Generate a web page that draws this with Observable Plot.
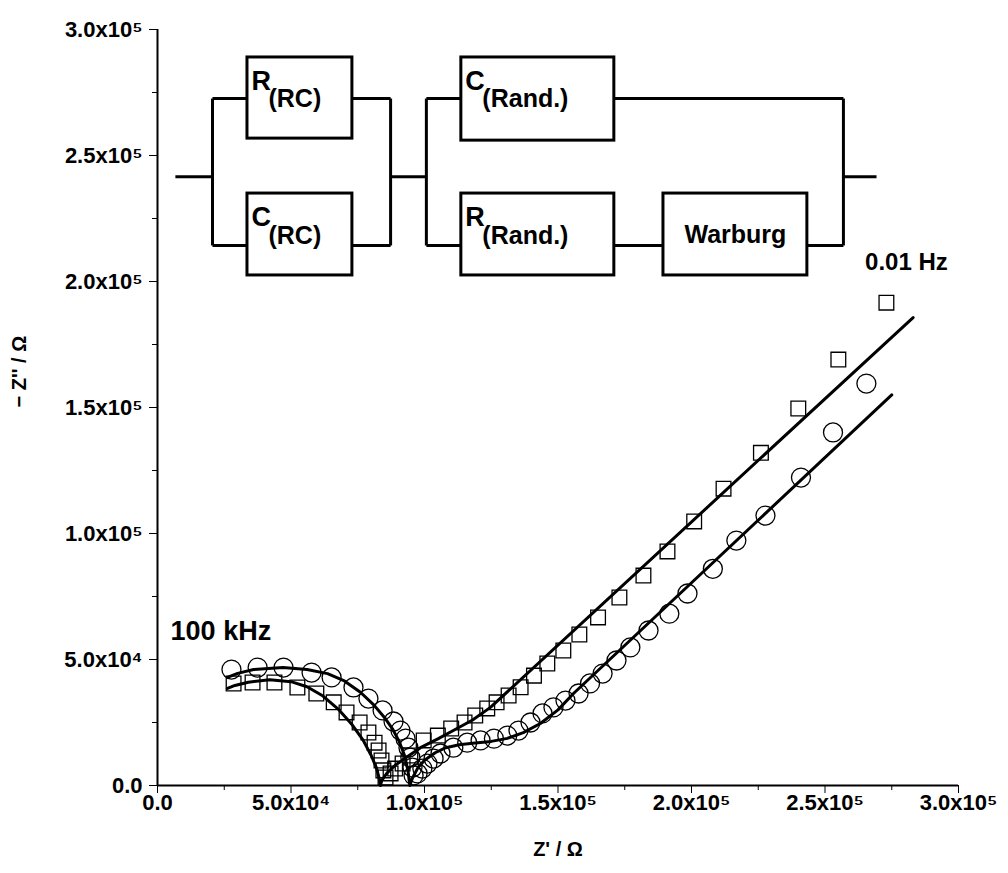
<!DOCTYPE html>
<html>
<head>
<meta charset="utf-8">
<script src="https://cdn.jsdelivr.net/npm/d3@7"></script>
<script src="https://cdn.jsdelivr.net/npm/@observablehq/plot@0.6"></script>
<style>
  body { margin: 0; background: #fff; }
  #chart svg { font-family: "Liberation Sans", Arial, sans-serif; }
</style>
</head>
<body>
<div id="chart"></div>
<script>
// measured points: squares
const sqX = [2.85e4, 3.56e4, 4.38e4, 5.24e4, 5.95e4, 6.6e4, 7.08e4, 7.57e4, 7.9e4, 8.13e4, 8.28e4, 8.39e4, 8.46e4, 8.54e4,
  8.73e4, 8.9e4, 9.18e4, 9.47e4, 9.97e4, 1.05e5, 1.10e5, 1.15e5, 1.19e5, 1.235e5, 1.27e5, 1.315e5, 1.36e5, 1.41e5, 1.46e5,
  1.52e5, 1.58e5, 1.65e5, 1.73e5, 1.82e5, 1.91e5, 2.01e5, 2.12e5, 2.26e5, 2.40e5, 2.55e5, 2.73e5]
const sqY = [4.05e4, 4.09e4, 4.09e4, 3.89e4, 3.65e4, 3.3e4, 2.9e4, 2.5e4, 2.1e4, 1.7e4, 1.39e4, 9.9e3, 6e3, 3.2e3,
  4.8e3, 6.7e3, 8.7e3, 1.19e4, 1.79e4, 1.98e4, 2.26e4, 2.5e4, 2.78e4, 3.06e4, 3.3e4, 3.57e4, 3.9e4, 4.36e4, 4.84e4,
  5.36e4, 5.99e4, 6.67e4, 7.46e4, 8.33e4, 9.29e4, 1.048e5, 1.178e5, 1.32e5, 1.496e5, 1.69e5, 1.916e5]
// measured points: circles
const ciX = [2.77e4, 3.75e4, 4.72e4, 5.77e4, 6.52e4, 7.34e4, 7.9e4, 8.43e4, 8.84e4, 9.1e4, 9.29e4, 9.4e4, 9.47e4, 9.55e4, 9.59e4,
  9.74e4, 9.92e4, 1.011e5, 1.034e5, 1.06e5, 1.108e5, 1.16e5, 1.21e5, 1.26e5, 1.31e5, 1.352e5, 1.397e5, 1.442e5, 1.483e5,
  1.528e5, 1.577e5, 1.62e5, 1.667e5, 1.719e5, 1.771e5, 1.839e5, 1.917e5, 1.985e5, 2.08e5, 2.168e5, 2.277e5, 2.41e5, 2.53e5, 2.655e5]
const ciY = [4.6e4, 4.68e4, 4.68e4, 4.48e4, 4.29e4, 3.89e4, 3.45e4, 2.98e4, 2.54e4, 2.18e4, 1.86e4, 1.5e4, 1.11e4, 7.1e3, 4e3,
  4.8e3, 6.7e3, 8.7e3, 1.07e4, 1.27e4, 1.5e4, 1.7e4, 1.79e4, 1.86e4, 1.98e4, 2.18e4, 2.5e4, 2.86e4, 3.1e4,
  3.37e4, 3.65e4, 4.05e4, 4.44e4, 4.96e4, 5.48e4, 6.15e4, 6.82e4, 7.62e4, 8.6e4, 9.72e4, 1.071e5, 1.222e5, 1.401e5, 1.595e5]
// fitted curves
const fitSqX = [2.62e4, 2.9e4, 3.4e4, 4.2e4, 5.0e4, 5.6e4, 6.2e4, 6.8e4, 7.3e4, 7.7e4, 8.0e4, 8.2e4, 8.3e4, 8.35e4,
  8.4e4, 8.6e4, 8.9e4, 9.3e4, 9.85e4, 1.05e5, 1.12e5, 1.18e5, 1.247e5, 2.83e5]
const fitSqY = [3.85e4, 3.97e4, 4.1e4, 4.2e4, 4.12e4, 3.92e4, 3.55e4, 3.0e4, 2.4e4, 1.8e4, 1.2e4, 7e3, 3e3, 0,
  2e3, 5e3, 8e3, 1.1e4, 1.5e4, 1.85e4, 2.25e4, 2.6e4, 3.1e4, 1.857e5]
const fitCiX = [2.62e4, 3.0e4, 3.6e4, 4.7e4, 5.6e4, 6.37e4, 7.0e4, 7.6e4, 8.1e4, 8.5e4, 8.8e4, 9.05e4, 9.25e4, 9.38e4, 9.45e4,
  9.55e4, 9.75e4, 1.0e5, 1.04e5, 1.08e5, 1.13e5, 1.18e5, 1.25e5, 1.31e5, 1.37e5, 1.434e5, 1.5e5, 1.558e5, 2.75e5]
const fitCiY = [4.29e4, 4.45e4, 4.6e4, 4.68e4, 4.6e4, 4.44e4, 4.15e4, 3.7e4, 3.2e4, 2.7e4, 2.25e4, 1.75e4, 1.2e4, 6e3, 0,
  3e3, 7e3, 1.0e4, 1.3e4, 1.5e4, 1.62e4, 1.68e4, 1.75e4, 1.87e4, 2.1e4, 2.46e4, 3.0e4, 3.65e4, 1.55e5]

const majorTicks = [0, 5e4, 1e5, 1.5e5, 2e5, 2.5e5, 3e5]
const minorTicks = [2.5e4, 7.5e4, 1.25e5, 1.75e5, 2.25e5, 2.75e5]

// equivalent circuit drawn in data units
const boxNames = ["R", "C", "C", "R", "Warburg"]
const boxSubs = ["(RC)", "(RC)", "(Rand.)", "(Rand.)", ""]
const boxX1 = [3.37e4, 3.37e4, 1.138e5, 1.138e5, 1.895e5]
const boxX2 = [7.3e4, 7.3e4, 1.711e5, 1.711e5, 2.434e5]
const boxY1 = [2.567e5, 2.024e5, 2.559e5, 2.024e5, 2.024e5]
const boxY2 = [2.889e5, 2.349e5, 2.889e5, 2.349e5, 2.349e5]
const wireX1 = [6.7e3, 2.06e4, 2.06e4, 2.06e4, 7.3e4, 7.3e4, 8.73e4, 8.73e4, 1.007e5, 1.007e5, 1.007e5, 1.711e5, 1.711e5, 2.434e5, 2.569e5, 2.569e5]
const wireY1 = [2.416e5, 2.726e5, 2.726e5, 2.143e5, 2.726e5, 2.143e5, 2.726e5, 2.416e5, 2.726e5, 2.726e5, 2.143e5, 2.726e5, 2.143e5, 2.143e5, 2.726e5, 2.416e5]
const wireX2 = [2.06e4, 2.06e4, 3.37e4, 3.37e4, 8.73e4, 8.73e4, 8.73e4, 1.007e5, 1.007e5, 1.138e5, 1.138e5, 2.569e5, 1.895e5, 2.569e5, 2.569e5, 2.693e5]
const wireY2 = [2.416e5, 2.143e5, 2.726e5, 2.143e5, 2.726e5, 2.143e5, 2.143e5, 2.416e5, 2.143e5, 2.726e5, 2.143e5, 2.726e5, 2.143e5, 2.143e5, 2.143e5, 2.416e5]

const sup = {"4": "⁴", "5": "⁵"}
const fmt = v => {
  if (v === 0) return "0.0"
  const e = Math.floor(Math.log10(v) + 1e-9)
  return (v / 10 ** e).toFixed(1) + "x10" + sup[e]
}

const squares = sqX.map((x, i) => ({x, y: sqY[i]}))
const circles = ciX.map((x, i) => ({x, y: ciY[i]}))
const fitSq = fitSqX.map((x, i) => ({x, y: fitSqY[i]}))
const fitCi = fitCiX.map((x, i) => ({x, y: fitCiY[i]}))
const boxes = boxNames.map((n, i) => ({n, s: boxSubs[i], x1: boxX1[i], x2: boxX2[i], y1: boxY1[i], y2: boxY2[i]}))
const wires = wireX1.map((x1, i) => ({x1, y1: wireY1[i], x2: wireX2[i], y2: wireY2[i]}))

const bold = {fontWeight: "bold", fill: "black"}

let chart = Plot.plot({
  width: 1008,
  height: 873,
  marginLeft: 157,
  marginRight: 50,
  marginTop: 29,
  marginBottom: 88,
  style: {fontFamily: "Liberation Sans, Arial, sans-serif", fontWeight: "bold"},
  x: {domain: [0, 3e5]},
  y: {domain: [0, 3e5]},
  marks: [
    Plot.axisX({ticks: majorTicks, tickSize: 8, tickWidth: 2, text: null, label: null}),
    Plot.axisX({ticks: minorTicks, tickSize: 5, text: null, label: null, tickWidth: 2}),
    Plot.axisY({ticks: majorTicks, tickSize: 8, tickWidth: 2, text: null, label: null}),
    Plot.axisY({ticks: minorTicks, tickSize: 5, text: null, label: null, tickWidth: 2}),
    Plot.text(majorTicks, {x: d => d, frameAnchor: "bottom", dy: 24, text: fmt, fontSize: 22, ...bold}),
    Plot.text(majorTicks, {y: d => d, frameAnchor: "left", dx: -15, textAnchor: "end", text: fmt, fontSize: 22, ...bold}),
    Plot.ruleY([0], {strokeWidth: 2}),
    Plot.ruleX([0], {strokeWidth: 2}),
    Plot.line(fitSq, {x: "x", y: "y", strokeWidth: 3}),
    Plot.line(fitCi, {x: "x", y: "y", strokeWidth: 3}),
    Plot.dot(squares, {x: "x", y: "y", symbol: "square", r: 8.3, stroke: "black", strokeWidth: 1.3, fill: "none"}),
    Plot.dot(circles, {x: "x", y: "y", symbol: "circle", r: 9.5, stroke: "black", strokeWidth: 1.3, fill: "none"}),
    Plot.text(["100 kHz"], {x: 4.9e3, y: 6.1e4, textAnchor: "start", fontSize: 27, ...bold}),
    Plot.text(["0.01 Hz"], {x: 2.65e5, y: 2.075e5, textAnchor: "start", fontSize: 24, ...bold}),
    // circuit
    Plot.link(wires, {x1: "x1", y1: "y1", x2: "x2", y2: "y2", strokeWidth: 3, stroke: "black"}),
    Plot.rect(boxes, {x1: "x1", x2: "x2", y1: "y1", y2: "y2", fill: "white", stroke: "black", strokeWidth: 3}),
    Plot.text(boxes.filter(d => d.s), {x: d => d.x1, y: d => d.y2, text: "n", textAnchor: "start", dx: 4, dy: 24, fontSize: 27, ...bold}),
    Plot.text(boxes.filter(d => d.s), {x: d => d.x1, y: d => d.y2, text: "s", textAnchor: "start", dx: 21, dy: 42, fontSize: 25, ...bold}),
    Plot.text(boxes.filter(d => !d.s), {x: d => (d.x1 + d.x2) / 2, y: d => (d.y1 + d.y2) / 2, text: "n", fontSize: 25, ...bold}),
    Plot.text(["Z' / Ω"], {frameAnchor: "bottom", dy: 70, fontSize: 20, ...bold}),
    Plot.text(["− Z'' / Ω"], {frameAnchor: "left", dx: -138, rotate: -90, fontSize: 20, ...bold})
  ]
})
d3.select('#chart').append(() => chart)
</script>
</body>
</html>
